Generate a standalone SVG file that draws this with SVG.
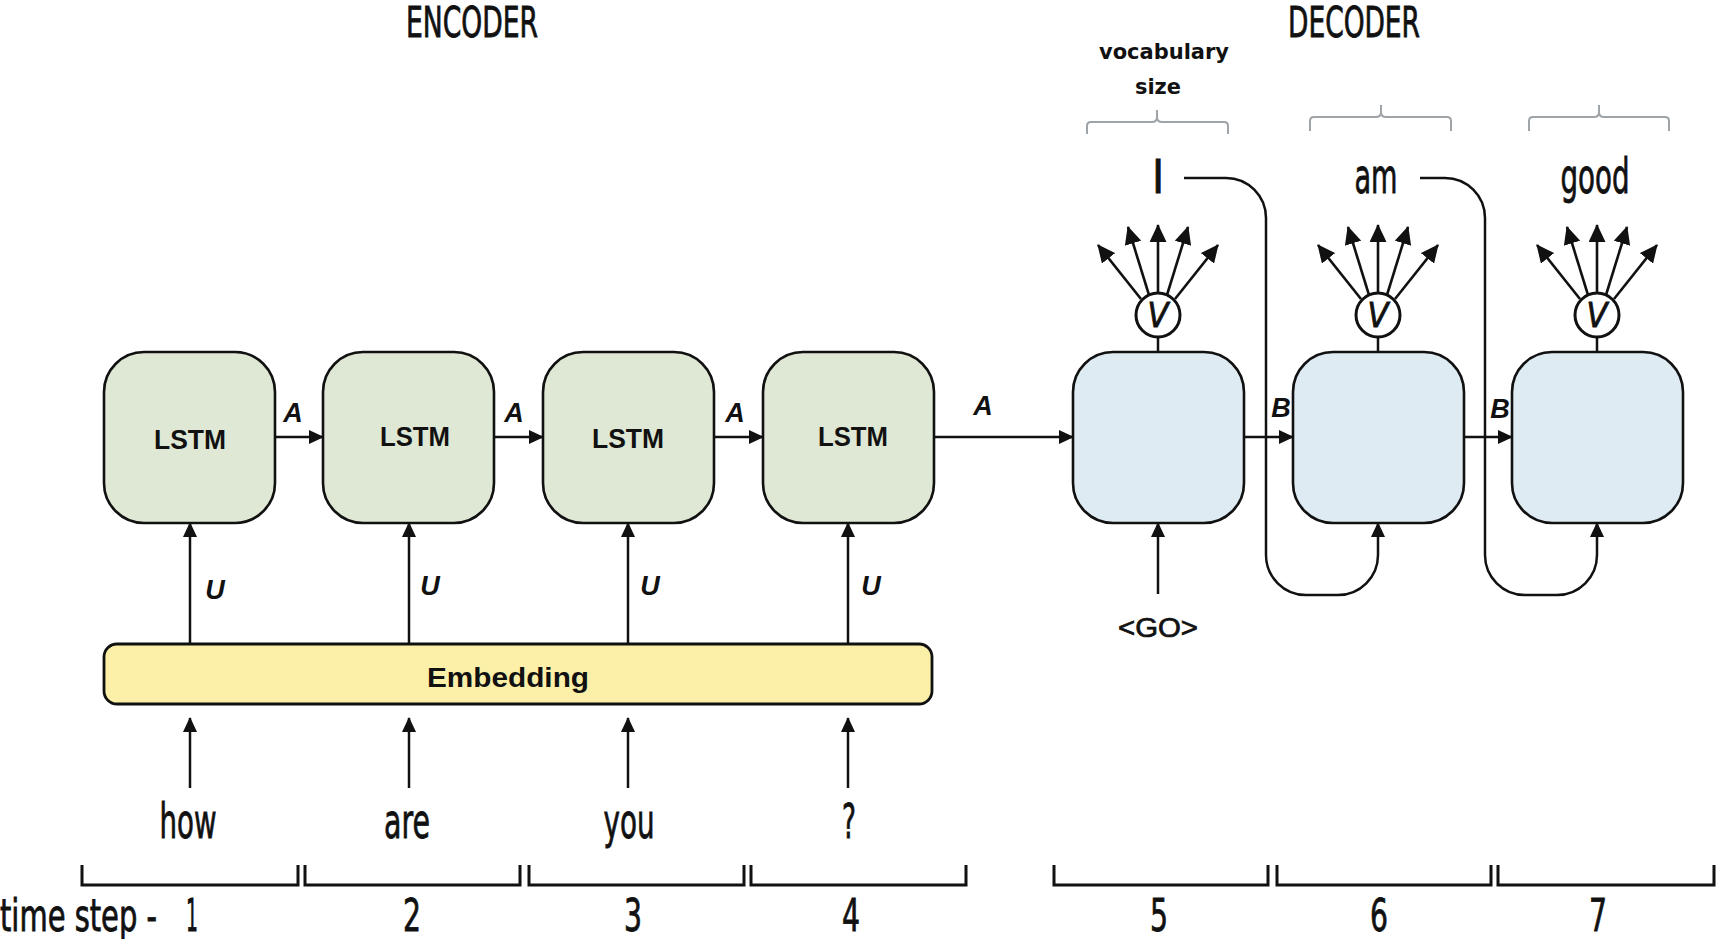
<svg xmlns="http://www.w3.org/2000/svg" width="1717" height="939" viewBox="0 0 1717 939">
<defs>
<style>
.enc{fill:#dfe8d4;stroke:#111;stroke-width:2.6}
.dec{fill:#dfebf2;stroke:#111;stroke-width:2.6}
.emb{fill:#fcf0a9;stroke:#111;stroke-width:2.8}
.ln{fill:none;stroke:#111;stroke-width:2.5}
.circ{fill:#fff;stroke:#111;stroke-width:3}
.arr{fill:none;stroke:#111;stroke-width:2.5;marker-end:url(#ah)}
.fan{fill:none;stroke:#111;stroke-width:2.6;marker-end:url(#fh)}
.brk{fill:none;stroke:#111;stroke-width:3}
.brace{fill:none;stroke:#9ea4a8;stroke-width:2}
.cond{font-family:"Liberation Sans Narrow","DejaVu Sans Condensed","Liberation Sans",sans-serif;fill:#111;text-anchor:middle;stroke:#111;stroke-width:0.8}
.lstm{font-family:"Liberation Sans",Arial,sans-serif;font-weight:bold;font-size:28px;fill:#111;text-anchor:middle}
.lbl{font-family:"Liberation Sans",Arial,sans-serif;font-weight:bold;font-style:italic;font-size:27px;fill:#111;text-anchor:middle}
.voc{font-family:"DejaVu Sans",sans-serif;font-weight:bold;font-size:21px;fill:#111;text-anchor:middle}
</style>
<marker id="ah" markerUnits="userSpaceOnUse" markerWidth="15" markerHeight="14" refX="14" refY="7" orient="auto"><path d="M0,0 L15,7 L0,14 z" fill="#111"/></marker>
<marker id="fh" markerUnits="userSpaceOnUse" markerWidth="18" markerHeight="17" refX="17" refY="8.5" orient="auto"><path d="M0,0 L18,8.5 L0,17 z" fill="#111"/></marker>
</defs>
<rect width="1717" height="939" fill="#fff"/>

<g id="titles">
<text class="cond" x="472" y="37" font-size="42" textLength="132" lengthAdjust="spacingAndGlyphs">ENCODER</text>
<text class="cond" x="1354" y="37" font-size="42" textLength="132" lengthAdjust="spacingAndGlyphs">DECODER</text>
<text class="voc" x="1164" y="59" textLength="130" lengthAdjust="spacingAndGlyphs">vocabulary</text>
<text class="voc" x="1158" y="94" textLength="46" lengthAdjust="spacingAndGlyphs">size</text>
</g>

<g id="braces">
<path class="brace" d="M1087,134 V126 Q1087,122 1091,122 H1152 Q1157,122 1157,117 Q1157,122 1162,122 H1224 Q1228,122 1228,126 V134 M1157,117 V110"/>
<path class="brace" d="M1310,131 V121 Q1310,117 1314,117 H1376 Q1381,117 1381,112 Q1381,117 1386,117 H1447 Q1451,117 1451,121 V131 M1381,112 V105"/>
<path class="brace" d="M1529,131 V121 Q1529,117 1533,117 H1594 Q1599,117 1599,112 Q1599,117 1604,117 H1665 Q1669,117 1669,121 V131 M1599,112 V105"/>
</g>

<g id="outputs">
<text class="cond" x="1158" y="193" font-size="46">I</text>
<text class="cond" x="1376" y="193" font-size="48" textLength="43" lengthAdjust="spacingAndGlyphs">am</text>
<text class="cond" x="1595" y="193" font-size="48" textLength="69" lengthAdjust="spacingAndGlyphs">good</text>
</g>

<g id="lstm1"><rect class="enc" x="104" y="352" width="171" height="171" rx="40"/><text class="lstm" x="190" y="449" textLength="72" lengthAdjust="spacingAndGlyphs">LSTM</text></g>
<g id="lstm2"><rect class="enc" x="323" y="352" width="171" height="171" rx="40"/><text class="lstm" x="415" y="446" textLength="70" lengthAdjust="spacingAndGlyphs">LSTM</text></g>
<g id="lstm3"><rect class="enc" x="543" y="352" width="171" height="171" rx="40"/><text class="lstm" x="628" y="448" textLength="72" lengthAdjust="spacingAndGlyphs">LSTM</text></g>
<g id="lstm4"><rect class="enc" x="763" y="352" width="171" height="171" rx="40"/><text class="lstm" x="853" y="446" textLength="70" lengthAdjust="spacingAndGlyphs">LSTM</text></g>

<g id="dec1"><rect class="dec" x="1073" y="352" width="171" height="171" rx="40"/></g>
<g id="dec2"><rect class="dec" x="1293" y="352" width="171" height="171" rx="40"/></g>
<g id="dec3"><rect class="dec" x="1512" y="352" width="171" height="171" rx="40"/></g>

<g id="v1"><circle class="circ" cx="1158" cy="315" r="22"/><text class="cond" x="1158" y="327" font-size="34" font-style="italic">V</text></g>
<g id="v2"><circle class="circ" cx="1378" cy="315" r="22"/><text class="cond" x="1378" y="327" font-size="34" font-style="italic">V</text></g>
<g id="v3"><circle class="circ" cx="1597" cy="315" r="22"/><text class="cond" x="1597" y="327" font-size="34" font-style="italic">V</text></g>

<g id="embedding"><rect class="emb" x="104" y="644" width="828" height="60" rx="13"/><text class="lstm" x="508" y="687" font-size="32" textLength="162" lengthAdjust="spacingAndGlyphs">Embedding</text></g>

<g id="inputs">
<text class="cond" x="188" y="838" font-size="48" textLength="57" lengthAdjust="spacingAndGlyphs">how</text>
<text class="cond" x="407" y="838" font-size="48" textLength="46" lengthAdjust="spacingAndGlyphs">are</text>
<text class="cond" x="629" y="838" font-size="48" textLength="51" lengthAdjust="spacingAndGlyphs">you</text>
<text class="cond" x="849" y="838" font-size="48" textLength="14" lengthAdjust="spacingAndGlyphs">?</text>
<text x="1158" y="637" font-family="Liberation Sans, Arial, sans-serif" font-size="27" fill="#111" stroke="#111" stroke-width="0.7" text-anchor="middle" textLength="80" lengthAdjust="spacingAndGlyphs">&lt;GO&gt;</text>
</g>

<g id="connectors">
<path class="arr" d="M275,437 H323"/>
<path class="arr" d="M494,437 H543"/>
<path class="arr" d="M714,437 H763"/>
<path class="arr" d="M934,437 H1073"/>
<path class="arr" d="M1244,437 H1293"/>
<path class="arr" d="M1464,437 H1512"/>
<path class="arr" d="M190,644 V523"/>
<path class="arr" d="M409,644 V523"/>
<path class="arr" d="M628,644 V523"/>
<path class="arr" d="M848,644 V523"/>
<path class="arr" d="M190,788 V718"/>
<path class="arr" d="M409,788 V718"/>
<path class="arr" d="M628,788 V718"/>
<path class="arr" d="M848,788 V718"/>
<path class="arr" d="M1158,594 V523"/>
<path class="arr" d="M1184,178 H1226 A40,40 0 0 1 1266,218 V555 A40,40 0 0 0 1306,595 H1338 A40,40 0 0 0 1378,555 V523"/>
<path class="arr" d="M1420,178 H1445 A40,40 0 0 1 1485,218 V555 A40,40 0 0 0 1525,595 H1557 A40,40 0 0 0 1597,555 V523"/>
<path class="ln" d="M1158,337 V352 M1378,337 V352 M1597,337 V352"/>
<g id="fan1">
<path class="fan" d="M1141,299 L1098,245"/><path class="fan" d="M1149,295 L1128,227"/><path class="fan" d="M1158,293 V225"/><path class="fan" d="M1167,295 L1188,227"/><path class="fan" d="M1175,299 L1218,245"/>
</g>
<g id="fan2">
<path class="fan" d="M1361,299 L1318,245"/><path class="fan" d="M1369,295 L1348,227"/><path class="fan" d="M1378,293 V225"/><path class="fan" d="M1387,295 L1408,227"/><path class="fan" d="M1395,299 L1438,245"/>
</g>
<g id="fan3">
<path class="fan" d="M1580,299 L1537,245"/><path class="fan" d="M1588,295 L1567,227"/><path class="fan" d="M1597,293 V225"/><path class="fan" d="M1606,295 L1627,227"/><path class="fan" d="M1614,299 L1657,245"/>
</g>
</g>

<g id="labels">
<text class="lbl" x="293" y="422">A</text>
<text class="lbl" x="514" y="422">A</text>
<text class="lbl" x="735" y="422">A</text>
<text class="lbl" x="983" y="415">A</text>
<text class="lbl" x="1281" y="417">B</text>
<text class="lbl" x="1500" y="418">B</text>
<text class="lbl" x="215" y="599">U</text>
<text class="lbl" x="430" y="595">U</text>
<text class="lbl" x="650" y="595">U</text>
<text class="lbl" x="871" y="595">U</text>
</g>

<g id="timeline">
<path class="brk" d="M82,865 V885 H298 V865 M305,865 V885 H520 V865 M529,865 V885 H744 V865 M751,865 V885 H966 V865 M1054,865 V885 H1268 V865 M1277,865 V885 H1491 V865 M1498,865 V885 H1714 V865"/>
<text class="cond" x="0" y="931" font-size="45" style="text-anchor:start" textLength="157" lengthAdjust="spacingAndGlyphs">time step  -</text>
<text class="cond" x="192" y="931" font-size="45" textLength="12" lengthAdjust="spacingAndGlyphs">1</text>
<text class="cond" x="412" y="931" font-size="45" textLength="18" lengthAdjust="spacingAndGlyphs">2</text>
<text class="cond" x="633" y="931" font-size="45" textLength="18" lengthAdjust="spacingAndGlyphs">3</text>
<text class="cond" x="851" y="931" font-size="45" textLength="18" lengthAdjust="spacingAndGlyphs">4</text>
<text class="cond" x="1159" y="931" font-size="45" textLength="18" lengthAdjust="spacingAndGlyphs">5</text>
<text class="cond" x="1379" y="931" font-size="45" textLength="18" lengthAdjust="spacingAndGlyphs">6</text>
<text class="cond" x="1598" y="931" font-size="45" textLength="18" lengthAdjust="spacingAndGlyphs">7</text>
</g>
</svg>
